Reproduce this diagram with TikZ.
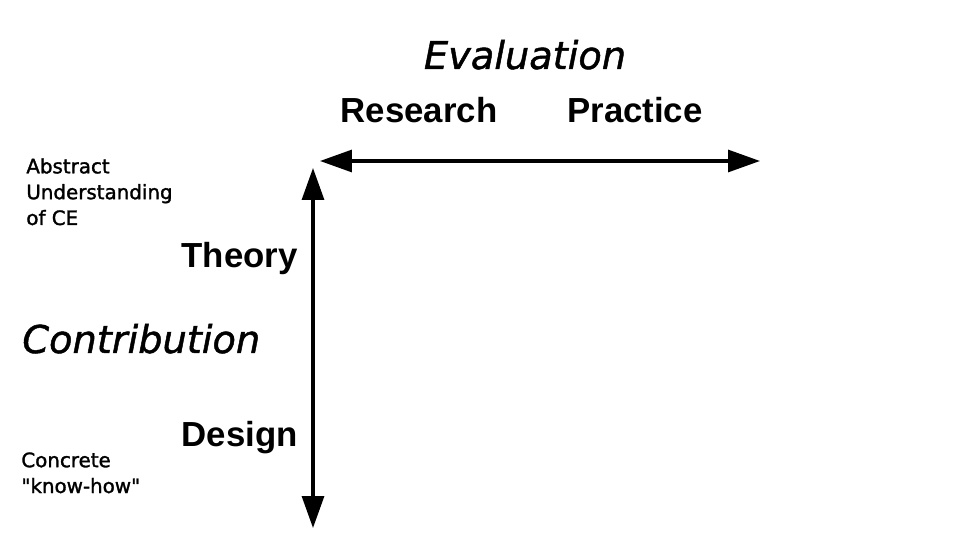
\documentclass[tikz,border=0pt]{standalone}
\usepackage{fontspec}
\usepackage{tikz}
\usetikzlibrary{arrows.meta}
\newfontfamily\axisfont[ItalicFeatures={FakeBold=1.2}]{DejaVu Sans}
\newfontfamily\polefont{Liberation Sans}
\newfontfamily\notefont[FakeBold=1.5]{DejaVu Sans}
\definecolor{inkcol}{HTML}{000000}

\begin{document}
\begin{tikzpicture}[x=0.02cm,y=-0.02cm,
  >={Triangle[length=0.64cm,width=0.44cm]},
  axislabel/.style={inner sep=0pt,font=\axisfont\itshape\fontsize{21.8}{26}\selectfont},
  polelabel/.style={inner sep=0pt,font=\polefont\bfseries\fontsize{19.8}{24}\selectfont},
  notelabel/.style={inner sep=0pt,align=left,font=\notefont\fontsize{11.3}{14.7}\selectfont}]
\useasboundingbox (0,0) rectangle (960,540);
% axes
\coordinate (hl) at (320,161);
\coordinate (hr) at (760,161);
\coordinate (vt) at (313,168);
\coordinate (vb) at (313,528);
\draw[<->,inkcol,line width=1.8pt] (hl)--(hr);
\draw[<->,inkcol,line width=1.8pt] (vt)--(vb);
% evaluation axis
\node[axislabel,anchor=base] (eval) at (525,69) {Evaluation};
\node[polelabel,anchor=base] (research) at (419,123) {Research};
\node[polelabel,anchor=base] (practice) at (635,123) {Practice};
% contribution axis
\node[axislabel,anchor=base west] (contrib) at (22,353) {Contribution};
\node[polelabel,anchor=base east] (theory) at (298,268) {Theory};
\node[polelabel,anchor=base east] (design) at (298,446) {Design};
\node[notelabel,anchor=base west] (abstract) at (26,225) {Abstract\\Understanding\\of CE};
\node[notelabel,anchor=base west] (concrete) at (21,493) {Concrete\\"know-how"};
\end{tikzpicture}
\end{document}
